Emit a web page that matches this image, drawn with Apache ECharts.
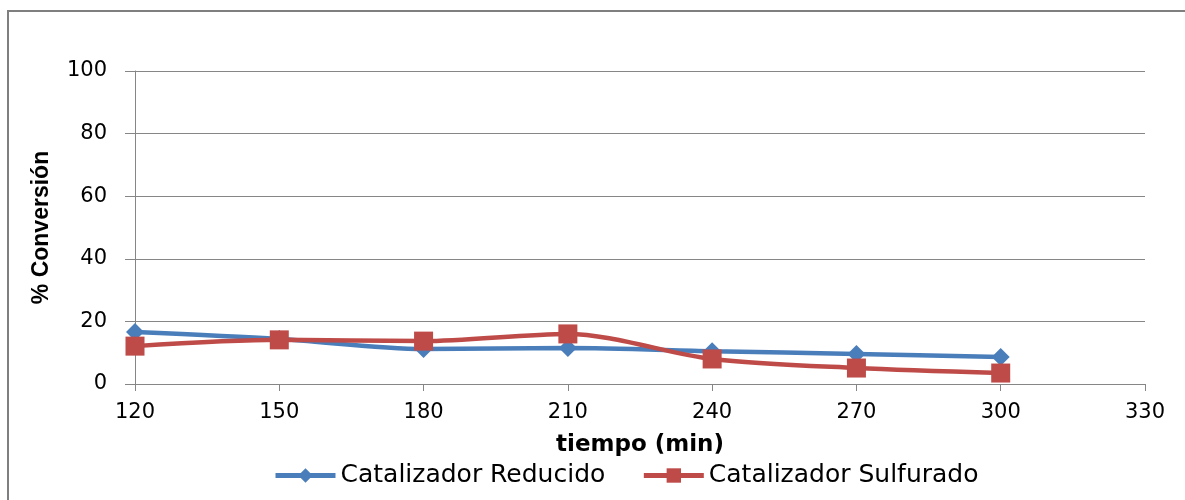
<!DOCTYPE html>
<html>
<head>
<meta charset="utf-8">
<script src="https://cdn.jsdelivr.net/npm/echarts@6/dist/echarts.min.js"></script>
<style>
  html, body { margin: 0; padding: 0; background: #fff; }
  #chart { width: 1185px; height: 500px; }
</style>
</head>
<body>
<div id="chart"></div>
<script>
// Time points (min) and conversion (%) for each catalyst
const tiempo = [120, 150, 180, 210, 240, 270, 300];
const reducido = [16.6, 14.4, 11.2, 11.5, 10.5, 9.6, 8.6];
const sulfurado = [12.1, 14.1, 13.7, 16.0, 8.0, 5.1, 3.5];
const seriesNames = ['Catalizador Reducido', 'Catalizador Sulfurado'];

const pair = (xs, ys) => xs.map((x, i) => [x, ys[i]]);
const axisGray = '#868686';

const chart = echarts.init(document.getElementById('chart'));
chart.setOption({
  animation: false,
  backgroundColor: '#ffffff',
  graphic: [{
    type: 'rect',
    shape: { x: 8, y: 11, width: 1200, height: 520 },
    style: { fill: 'none', stroke: '#7f7f7f', lineWidth: 2 },
    silent: true
  }],
  grid: { left: 135, right: 40, top: 71, bottom: 116 },
  legend: {
    data: seriesNames,
    top: 458,
    left: 268,
    itemWidth: 60,
    itemHeight: 18,
    itemGap: 36,
    lineStyle: { width: 5 },
    textStyle: { fontFamily: 'DejaVu Sans, Verdana, sans-serif', fontSize: 25, color: '#000' }
  },
  xAxis: {
    type: 'value',
    min: 120, max: 330, interval: 30,
    name: 'tiempo (min)',
    nameLocation: 'middle',
    nameGap: 50,
    nameTextStyle: { fontFamily: 'DejaVu Sans, Verdana, sans-serif', fontSize: 23, fontWeight: 'bold', color: '#000' },
    axisLine: { lineStyle: { color: axisGray, width: 1 } },
    axisTick: { show: true, inside: false, length: 7, lineStyle: { color: axisGray } },
    axisLabel: { fontFamily: 'DejaVu Sans, Verdana, sans-serif', fontSize: 21, color: '#000', margin: 18 },
    splitLine: { show: false }
  },
  yAxis: {
    type: 'value',
    min: 0, max: 100, interval: 20,
    name: '% Conversión',
    nameLocation: 'middle',
    nameGap: 82,
    nameRotate: 90,
    nameTextStyle: { fontFamily: 'Liberation Sans, Arial, sans-serif', fontSize: 23, fontWeight: 'bold', color: '#000' },
    axisLine: { show: true, lineStyle: { color: axisGray, width: 1 } },
    axisTick: { show: true, inside: false, length: 10, lineStyle: { color: axisGray } },
    axisLabel: { fontFamily: 'DejaVu Sans, Verdana, sans-serif', fontSize: 21, color: '#000', margin: 28 },
    splitLine: { show: true, lineStyle: { color: axisGray, width: 1 } }
  },
  series: [
    {
      name: seriesNames[0],
      type: 'line',
      data: pair(tiempo, reducido),
      smooth: 0.3,
      symbol: 'diamond',
      symbolSize: 18,
      itemStyle: { color: '#4a7ebb' },
      lineStyle: { color: '#4a7ebb', width: 4.5 },
      z: 2
    },
    {
      name: seriesNames[1],
      type: 'line',
      data: pair(tiempo, sulfurado),
      smooth: 0.3,
      symbol: 'rect',
      symbolSize: 19,
      itemStyle: { color: '#be4b48' },
      lineStyle: { color: '#be4b48', width: 4.5 },
      z: 3
    }
  ]
});
</script>
</body>
</html>
